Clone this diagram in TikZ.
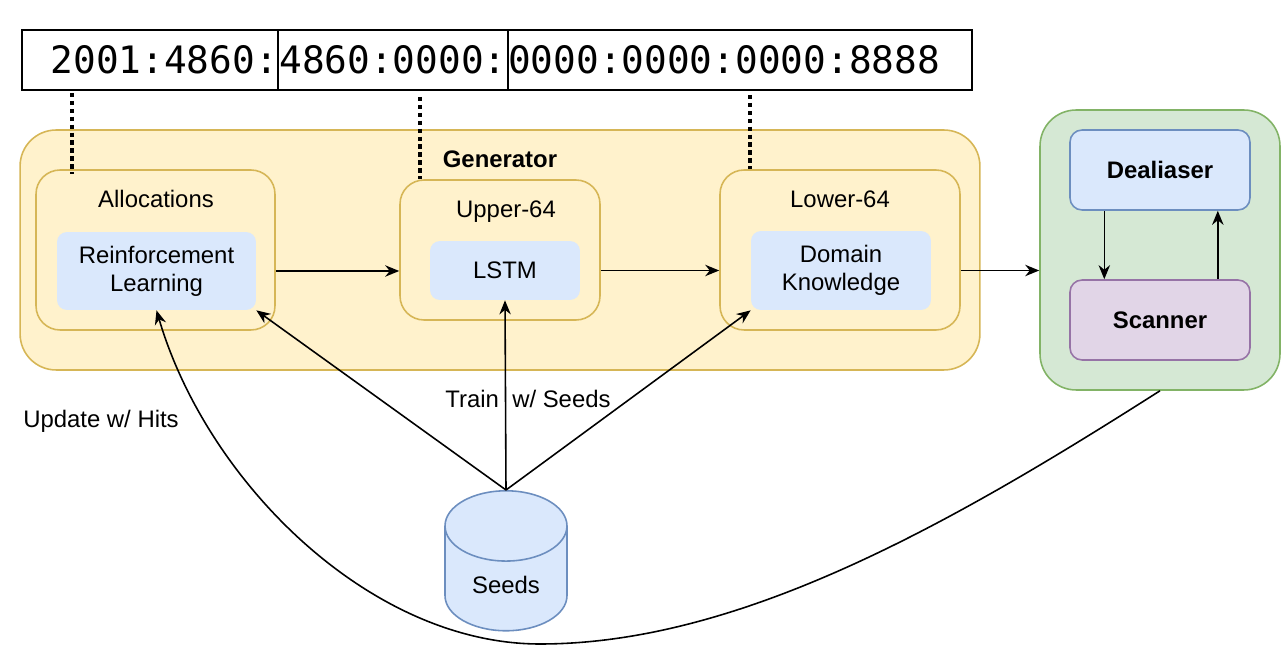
\documentclass[tikz,border=0pt]{standalone}
\usepackage{fontspec}
\setmainfont{Liberation Sans}
\newfontfamily\addrfont{DejaVu Sans Mono}
\usetikzlibrary{arrows.meta,shapes.geometric}
\definecolor{genfill}{HTML}{FFF2CC}
\definecolor{gendraw}{HTML}{D6B656}
\definecolor{bluefill}{HTML}{DAE8FC}
\definecolor{bluedraw}{HTML}{6C8EBF}
\definecolor{greenfill}{HTML}{D5E8D4}
\definecolor{greendraw}{HTML}{82B366}
\definecolor{purplefill}{HTML}{E1D5E7}
\definecolor{purpledraw}{HTML}{9673A6}
\begin{document}
\begin{tikzpicture}[x=0.02cm,y=-0.02cm]
  \tikzstyle{every node}=[font=\fontsize{13.6}{15.9}\selectfont];
  \tikzstyle{cell}=[draw,line width=1.2pt,minimum height=1.2cm,inner xsep=0pt,font=\addrfont\fontsize{21.5}{24}\selectfont];
  \tikzstyle{group}=[draw=gendraw,fill=genfill,line width=0.9pt,rounded corners=0.72cm];
  \tikzstyle{stage}=[draw=gendraw,fill=genfill,line width=0.9pt,rounded corners=0.48cm];
  \tikzstyle{method}=[fill=bluefill,rounded corners=0.2cm,align=center];
  \tikzstyle{probe}=[draw=greendraw,fill=greenfill,line width=0.9pt,rounded corners=0.72cm];
  \tikzstyle{tool}=[line width=0.9pt,rounded corners=0.24cm,minimum width=3.6cm,minimum height=1.6cm,font=\fontsize{13.6}{15.9}\selectfont\bfseries];
  \tikzstyle{seeddb}=[cylinder,shape border rotate=90,draw=bluedraw,fill=bluefill,line width=0.9pt,aspect=6,minimum width=2.44cm,minimum height=2.8cm];
  \tikzstyle{flow}=[-{Stealth[length=8pt,width=6.5pt]},line width=0.9pt];
  \tikzstyle{link}=[line width=2pt,dash pattern=on 2.5pt off 2pt];

  \useasboundingbox (0,0) rectangle (1282,648);

  % address
  \node[cell,text width=5.12cm,align=right] (c1) at (150,60) {2001:4860:};
  \node[cell,text width=4.6cm,align=center] (c2) at (393,60) {4860:0000:};
  \node[cell,text width=9.28cm,align=left] (c3) at (740,60) {0000:0000:0000:8888};

  % generator
  \node[group,minimum width=19.2cm,minimum height=4.8cm] (gen) at (500,250) {};
  \node[anchor=base,font=\fontsize{13.6}{15.9}\selectfont\bfseries] (genlbl) at (500,168) {Generator};

  \node[stage,minimum width=4.78cm,minimum height=3.2cm] (alloc) at (155.5,250) {};
  \node[anchor=base] (alloclbl) at (156,208) {Allocations};
  \node[method,minimum width=3.98cm,minimum height=1.56cm] (rl) at (156.5,271) {Reinforcement\\Learning};

  \node[stage,minimum width=4cm,minimum height=2.8cm] (upper) at (500,250) {};
  \node[anchor=base] (upperlbl) at (506,218) {Upper-64};
  \node[method,minimum width=3cm,minimum height=1.18cm] (lstm) at (505,270.5) {LSTM};

  \node[stage,minimum width=4.8cm,minimum height=3.2cm] (lower) at (840,250) {};
  \node[anchor=base] (lowerlbl) at (840,208) {Lower-64};
  \node[method,minimum width=3.6cm,minimum height=1.58cm] (dk) at (841,270.5) {Domain\\Knowledge};

  % scanning
  \node[probe,minimum width=4.8cm,minimum height=5.6cm] (probe) at (1160,250) {};
  \node[tool,draw=bluedraw,fill=bluefill] (deal) at (1160,170) {Dealiaser};
  \node[tool,draw=purpledraw,fill=purplefill] (scan) at (1160,320) {Scanner};

  % seeds
  \node[seeddb,anchor=north] (seeds) at (506,490) {};
  \node[anchor=base] (seedslbl) at (506,593) {Seeds};

  \node[anchor=base] (trainlbl) at (528,408) {Train\ \ w/ Seeds};
  \node[anchor=base] (updatelbl) at (101,428) {Update w/ Hits};

  % address parts => stages
  \coordinate (d1) at (72,93);
  \coordinate (d2) at (420,97);
  \coordinate (d3) at (750,95);
  \draw[link] (d1) -- ([yshift=-3pt]d1 |- alloc.north);
  \draw[link] (d2) -- (d2 |- upper.north);
  \draw[link] (d3) -- (d3 |- lower.north);

  % allocations => upper => lower => scanning
  \draw[flow] (alloc.east |- rl) -- (upper.west |- rl);
  \draw[flow] (upper.east |- lstm) -- (lower.west |- lstm);
  \draw[flow] (lower.east |- dk) -- (probe.west |- dk);

  % dealiaser <=> scanner
  \draw[flow] ([xshift=-31.7pt]deal.south) -- ([xshift=-31.7pt]scan.north);
  \draw[flow] ([xshift=32.9pt]scan.north) -- ([xshift=32.9pt]deal.south);

  % seeds => generator
  \draw[flow] (seeds.north) -- (rl.south east);
  \draw[flow] (seeds.north) -- (lstm.south);
  \draw[flow] (seeds.north) -- (dk.south west);

  % hits => allocations
  \draw[flow] (probe.south) .. controls (951,524) and (740,644) .. (540,644)
    .. controls (370,644) and (207,482) .. (rl.south);
\end{tikzpicture}
\end{document}
